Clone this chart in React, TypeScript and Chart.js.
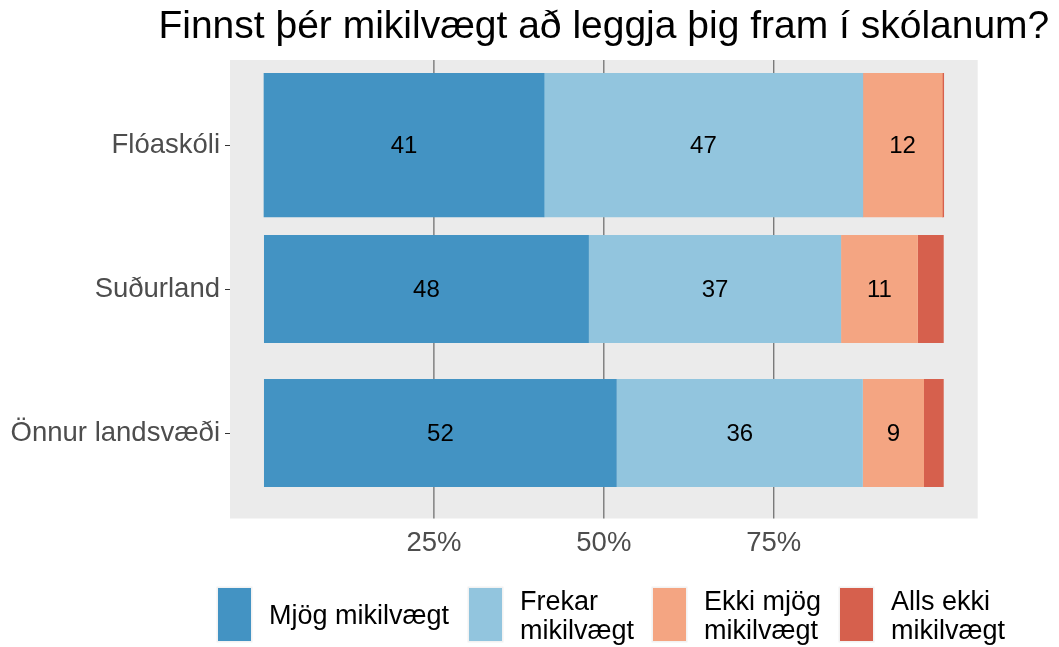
import React, { useEffect, useRef } from 'react';
import { Chart, registerables } from 'chart.js';

Chart.register(...registerables);

// ---- data ----
const categories = ['Flóaskóli', 'Suðurland', 'Önnur landsvæði'];
const seriesNames = ['Mjög mikilvægt', 'Frekar mikilvægt', 'Ekki mjög mikilvægt', 'Alls ekki mikilvægt'];
const legendLines = [['Mjög mikilvægt'], ['Frekar', 'mikilvægt'], ['Ekki mjög', 'mikilvægt'], ['Alls ekki', 'mikilvægt']];
const mjogMikilvaegt = [41.2, 47.8, 51.9];
const frekarMikilvaegt = [46.9, 37.1, 36.2];
const ekkiMjogMikilvaegt = [11.7, 11.3, 9.0];
const allsEkkiMikilvaegt = [0.2, 3.8, 2.9];
const xTickValues = [25, 50, 75];
const titleText = 'Finnst þér mikilvægt að leggja þig fram í skólanum?';
const labelThreshold = 5;

// ---- styles ----
const seriesColors = ['#4393C3', '#92C5DE', '#F4A582', '#D6604D'];
const FONT = "'Liberation Sans', Arial, Helvetica, sans-serif";
const legendKeyX = [218, 469, 653, 840];

const allSeries = [mjogMikilvaegt, frekarMikilvaegt, ekkiMjogMikilvaegt, allsEkkiMikilvaegt];

const panelPlugin = {
  id: 'panelBg',
  beforeDatasetsDraw(chart: any) {
    const { ctx, chartArea } = chart;
    const xs = chart.scales.x;
    const top = chartArea.top - 13;
    const bottom = chartArea.bottom + 13.5;
    ctx.save();
    ctx.fillStyle = '#EBEBEB';
    ctx.fillRect(chartArea.left, top, chartArea.right - chartArea.left, bottom - top);
    ctx.strokeStyle = '#4D4D4D';
    ctx.lineWidth = 1;
    xTickValues.forEach((v) => {
      const px = xs.getPixelForValue(v);
      ctx.beginPath();
      ctx.moveTo(px, top);
      ctx.lineTo(px, bottom);
      ctx.stroke();
    });
    ctx.restore();
  },
};

const titlePlugin = {
  id: 'panelTitle',
  afterDraw(chart: any) {
    const { ctx, chartArea } = chart;
    ctx.save();
    ctx.fillStyle = '#000000';
    ctx.font = `39px ${FONT}`;
    ctx.textAlign = 'center';
    ctx.textBaseline = 'alphabetic';
    ctx.fillText(titleText, (chartArea.left + chartArea.right) / 2, 38);
    ctx.restore();
  },
};

const barLabelPlugin = {
  id: 'barLabels',
  afterDatasetsDraw(chart: any) {
    const { ctx } = chart;
    ctx.save();
    ctx.fillStyle = '#000000';
    ctx.font = `24px ${FONT}`;
    ctx.textAlign = 'center';
    ctx.textBaseline = 'middle';
    chart.data.datasets.forEach((ds: any, i: number) => {
      const meta = chart.getDatasetMeta(i);
      meta.data.forEach((el: any, j: number) => {
        const v = ds.data[j];
        if (v == null || v < labelThreshold) return;
        const { x, y, base } = el.getProps(['x', 'y', 'base'], true);
        ctx.fillText(String(Math.round(v)), (x + base) / 2, y + 1);
      });
    });
    ctx.restore();
  },
};

const legendPlugin = {
  id: 'customLegend',
  afterDraw(chart: any) {
    const { ctx } = chart;
    ctx.save();
    const keyY = 588;
    const keyW = 33;
    const keyH = 53;
    seriesNames.forEach((name, i) => {
      const kx = legendKeyX[i];
      ctx.fillStyle = '#F2F2F2';
      ctx.fillRect(kx - 1.5, keyY - 1.5, keyW + 3, keyH + 3);
      ctx.fillStyle = seriesColors[i];
      ctx.fillRect(kx, keyY, keyW, keyH);
      ctx.fillStyle = '#000000';
      ctx.font = `27px ${FONT}`;
      ctx.textAlign = 'left';
      ctx.textBaseline = 'alphabetic';
      const lines = legendLines[i];
      const tx = kx + keyW + 18;
      if (lines.length === 1) {
        ctx.fillText(lines[0], tx, 624);
      } else {
        ctx.fillText(lines[0], tx, 609.5);
        ctx.fillText(lines[1], tx, 638.5);
      }
    });
    ctx.restore();
  },
};

export default function App() {
  const canvasRef = useRef<HTMLCanvasElement | null>(null);

  useEffect(() => {
    if (!canvasRef.current) return;
    const datasets: any[] = [];
    allSeries.forEach((vals, s) => {
      datasets.push({
        label: seriesNames[s],
        data: [vals[0], null, null],
        backgroundColor: seriesColors[s],
        borderWidth: 0,
        barPercentage: 1.0,
        categoryPercentage: 1.0,
      });
      datasets.push({
        label: seriesNames[s],
        data: [null, vals[1], vals[2]],
        backgroundColor: seriesColors[s],
        borderWidth: 0,
        barPercentage: 0.75,
        categoryPercentage: 1.0,
      });
    });

    const chart = new Chart(canvasRef.current, {
      type: 'bar',
      data: { labels: categories, datasets },
      options: {
        indexAxis: 'y',
        animation: false,
        responsive: true,
        maintainAspectRatio: false,
        events: [],
        layout: { padding: { left: 0, right: 81.3, top: 73, bottom: 0 } },
        plugins: {
          legend: { display: false },
          tooltip: { enabled: false },
          title: { display: false },
        },
        scales: {
          x: {
            type: 'linear',
            stacked: true,
            min: -5,
            max: 105,
            grid: { display: false },
            border: { display: false },
            afterBuildTicks: (scale: any) => {
              scale.ticks = xTickValues.map((v) => ({ value: v }));
            },
            afterFit: (scale: any) => {
              scale.height = 142;
            },
            ticks: {
              color: '#4D4D4D',
              font: { family: FONT, size: 27.5 },
              padding: 14,
              maxRotation: 0,
              autoSkip: false,
              callback: (v: any) => `${v}%`,
            },
          },
          y: {
            type: 'category',
            stacked: true,
            offset: true,
            grid: {
              display: true,
              drawOnChartArea: false,
              drawTicks: true,
              tickLength: 5,
              tickColor: '#333333',
              tickWidth: 1,
              offset: false,
            },
            border: { display: false },
            afterFit: (scale: any) => {
              scale.width = 230;
            },
            ticks: {
              color: '#4D4D4D',
              font: { family: FONT, size: 27.5 },
              padding: 5,
              autoSkip: false,
            },
          },
        },
      },
      plugins: [panelPlugin, barLabelPlugin, titlePlugin, legendPlugin],
    });

    return () => {
      chart.destroy();
    };
  }, []);

  return (
    <div style={{ position: 'fixed', left: 0, top: 0, width: 1059, height: 647, background: '#FFFFFF' }}>
      <canvas ref={canvasRef} />
    </div>
  );
}
